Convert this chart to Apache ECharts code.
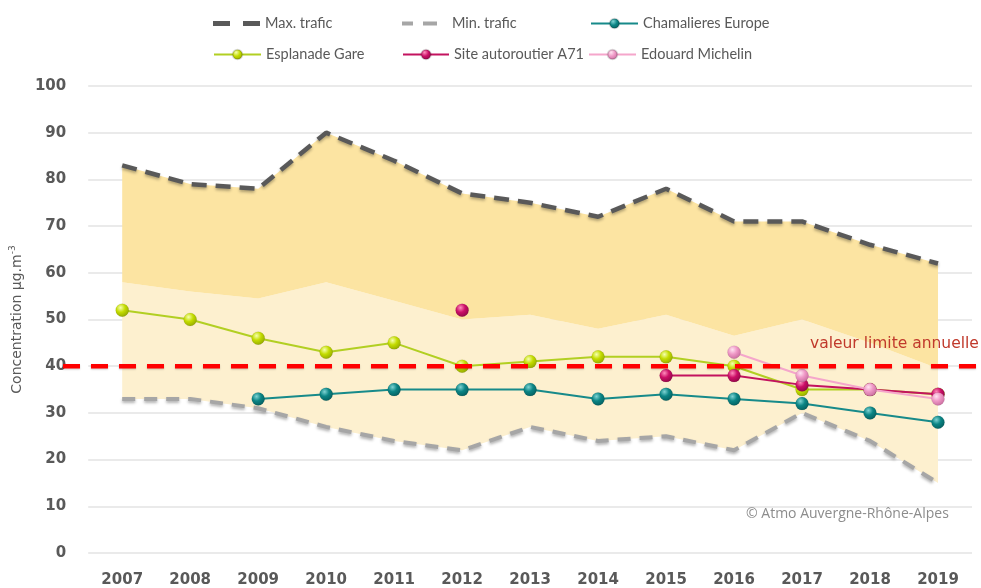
<!DOCTYPE html>
<html>
<head>
<meta charset="utf-8">
<script src="https://cdn.jsdelivr.net/npm/echarts@6/dist/echarts.min.js"></script>
<style>
  html, body { margin: 0; padding: 0; background: #ffffff; }
  #chart { width: 981px; height: 588px; }
</style>
</head>
<body>
<div id="chart"></div>
<script>
// NO2 annual mean concentrations (µg/m³), Clermont-Ferrand stations
const years = ['2007','2008','2009','2010','2011','2012','2013','2014','2015','2016','2017','2018','2019'];

const maxTrafic = [83, 79, 78, 90, 84, 77, 75, 72, 78, 71, 71, 66, 62];
const minTrafic = [33, 33, 31, 27, 24, 22, 27, 24, 25, 22, 30, 24, 15];
// boundary between the lighter and darker parts of the traffic envelope
const envelopeMid = [58, 56, 54.5, 58, 54, 50, 51, 48, 51, 46.5, 50, 45, 39.5];

const chamalieres = [null, null, 33, 34, 35, 35, 35, 33, 34, 33, 32, 30, 28];
const esplanade = [52, 50, 46, 43, 45, 40, 41, 42, 42, 40, 35, 35, 34];
const autoroutierA71 = [null, null, null, null, null, 52, null, null, 38, 38, 36, 35, 34];
const michelin = [null, null, null, null, null, null, null, null, null, 43, 38, 35, 33];

const limitValue = 40;
const yTicks = { min: 0, max: 100, interval: 10 };

// Envelope layers stacked on top of the minimum
const lightLayer = envelopeMid.map((v, i) => +(v - minTrafic[i]).toFixed(2));
const darkLayer = maxTrafic.map((v, i) => +(v - envelopeMid[i]).toFixed(2));

function sphere(base, light, dark) {
  return {
    type: 'radial', x: 0.38, y: 0.32, r: 0.75,
    colorStops: [
      { offset: 0, color: light },
      { offset: 0.45, color: base },
      { offset: 1, color: dark }
    ]
  };
}

const dashShadow = { shadowColor: 'rgba(0,0,0,0.3)', shadowBlur: 3, shadowOffsetY: 2 };

function stationSeries(name, data, lineColor, ball, z) {
  return {
    name, type: 'line', data,
    xAxisIndex: 0, yAxisIndex: 0,
    symbol: 'circle', symbolSize: 13, showAllSymbol: true,
    connectNulls: false,
    lineStyle: { color: lineColor, width: 2 },
    itemStyle: { color: ball, borderColor: 'rgba(0,0,0,0.15)', borderWidth: 0.5 },
    z
  };
}

const chart = echarts.init(document.getElementById('chart'), null, { renderer: 'canvas' });

const legendBase = {
  padding: 0,
  itemHeight: 12,
  textStyle: { fontFamily: 'Lato', fontSize: 14.5, color: '#595959' },
  selectedMode: false
};

// dashed legend keys: two short bars (the last segment only widens the key box)
const maxKey = 'path://M0,0h17v5h-17z M30,0h17v5h-17z';
const minKey = 'path://M0,0h11v4h-11z M21,0h14v4h-14z M45,0L45,4Z';

const option = {
  animation: false,
  backgroundColor: '#ffffff',
  legend: [
    Object.assign({}, legendBase, { data: [{ name: 'Max. trafic', icon: maxKey }], left: 213, top: 16, itemWidth: 47, itemHeight: 5 }),
    Object.assign({}, legendBase, { data: [{ name: 'Min. trafic', icon: minKey }], left: 402, top: 16, itemWidth: 45, itemHeight: 4 }),
    Object.assign({}, legendBase, { data: ['Chamalieres Europe'], left: 590, top: 16, itemWidth: 47 }),
    Object.assign({}, legendBase, { data: ['Esplanade Gare'], left: 213, top: 47, itemWidth: 47 }),
    Object.assign({}, legendBase, { data: ['Site autoroutier A71'], left: 402, top: 47, itemWidth: 46 }),
    Object.assign({}, legendBase, { data: ['Edouard Michelin'], left: 588, top: 47, itemWidth: 47 })
  ],
  grid: [
    { left: 84, right: 9, top: 86, bottom: 35 },
    { left: 63, right: 3, top: 86, bottom: 35 }
  ],
  xAxis: [
    {
      type: 'category', data: years, boundaryGap: true, gridIndex: 0,
      axisLine: { show: false }, axisTick: { show: false },
      axisLabel: { fontFamily: 'DejaVu Sans', fontWeight: 'bold', fontSize: 15, color: '#595959', margin: 20 }
    },
    { type: 'value', gridIndex: 1, min: 0, max: 1, show: false }
  ],
  yAxis: [
    {
      type: 'value', gridIndex: 0, min: yTicks.min, max: yTicks.max, interval: yTicks.interval,
      axisLine: { show: false }, axisTick: { show: false },
      splitLine: { lineStyle: { color: '#e3e3e3', width: 1.5 } },
      axisLabel: { fontFamily: 'DejaVu Sans', fontWeight: 'bold', fontSize: 15, color: '#595959', margin: 22 },
      name: 'Concentration µg.m{sup|-3}',
      nameLocation: 'middle', nameRotate: 90, nameGap: 57,
      nameTextStyle: {
        fontFamily: 'DejaVu Sans', fontSize: 14, color: '#595959',
        rich: { sup: { fontFamily: 'DejaVu Sans', fontSize: 9, color: '#595959', padding: [0, 0, 9, 0] } }
      }
    },
    { type: 'value', gridIndex: 1, min: yTicks.min, max: yTicks.max, show: false }
  ],
  series: [
    {
      name: 'envelope-base', type: 'line', stack: 'envelope', data: minTrafic,
      symbol: 'none', lineStyle: { opacity: 0 }, areaStyle: { opacity: 0 }, z: 1, silent: true
    },
    {
      name: 'envelope-light', type: 'line', stack: 'envelope', data: lightLayer,
      symbol: 'none', lineStyle: { opacity: 0 }, areaStyle: { color: '#fdf0cf', opacity: 1 }, z: 1, silent: true
    },
    {
      name: 'envelope-dark', type: 'line', stack: 'envelope', data: darkLayer,
      symbol: 'none', lineStyle: { opacity: 0 }, areaStyle: { color: '#fce4a2', opacity: 1 }, z: 1, silent: true
    },
    {
      name: 'Max. trafic', type: 'line', data: maxTrafic, symbol: 'none',
      itemStyle: { color: '#595959' },
      lineStyle: Object.assign({ color: '#595959', width: 4.5, type: [15, 9] }, dashShadow), z: 3
    },
    {
      name: 'Min. trafic', type: 'line', data: minTrafic, symbol: 'none',
      itemStyle: { color: '#a6a6a6' },
      lineStyle: Object.assign({ color: '#a6a6a6', width: 4, type: [13, 9] }, dashShadow), z: 3
    },
    stationSeries('Chamalieres Europe', chamalieres, '#178a8a', sphere('#0b8585', '#7fd3d3', '#045a5a'), 4),
    stationSeries('Esplanade Gare', esplanade, '#b2cf22', sphere('#c4dc00', '#f6ffb0', '#8ea300'), 4),
    stationSeries('Site autoroutier A71', autoroutierA71, '#c3135f', sphere('#cc0f67', '#ff8dbc', '#8a0644'), 5),
    stationSeries('Edouard Michelin', michelin, '#f5a6cb', sphere('#ef98c6', '#ffe3f1', '#c4679a'), 6),
    {
      name: 'valeur limite', type: 'line', xAxisIndex: 1, yAxisIndex: 1,
      data: [[0, limitValue], [1, limitValue]], symbol: 'none',
      lineStyle: { color: '#ff0000', width: 4.5, type: [17, 11], shadowColor: 'rgba(0,0,0,0.2)', shadowBlur: 2, shadowOffsetY: 1 },
      z: 7, silent: true
    }
  ],
  graphic: [
    {
      type: 'text', left: 810, top: 336, z: 10,
      style: { text: 'valeur limite annuelle', fontFamily: 'DejaVu Sans', fontSize: 15.5, fill: '#c0392b' }
    },
    {
      type: 'text', left: 746, top: 507, z: 10,
      style: { text: '© Atmo Auvergne-Rhône-Alpes', fontFamily: 'Open Sans', fontSize: 14, fill: '#8c8c8c' }
    }
  ]
};

chart.setOption(option);
</script>
</body>
</html>
